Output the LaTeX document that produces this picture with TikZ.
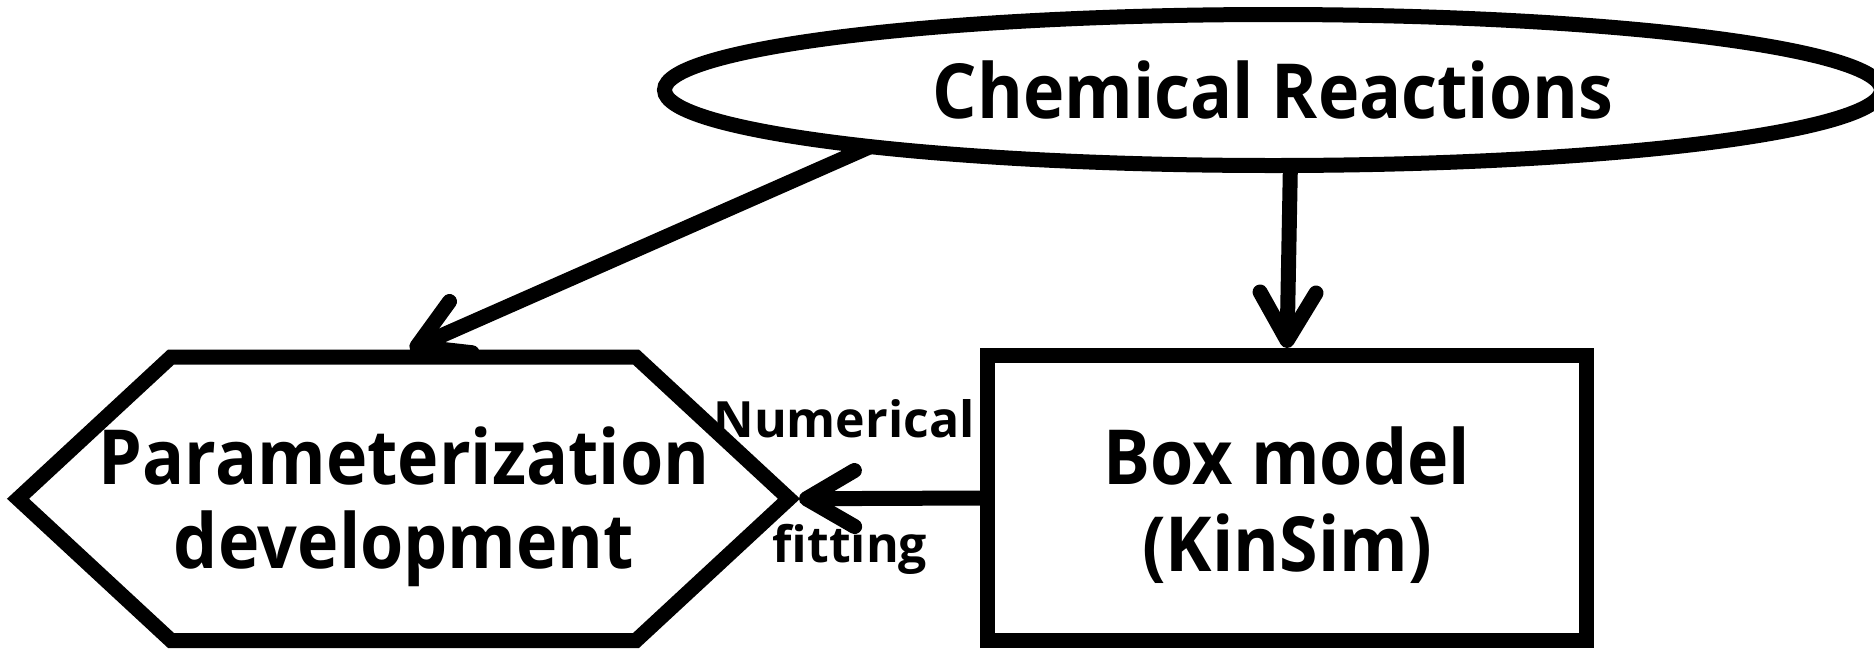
\documentclass[tikz,border=0pt]{standalone}
\usepackage{fontspec}
\setmainfont{Open Sans}
\newfontfamily\narrowsans{Open Sans}[FakeStretch=0.92]
\usetikzlibrary{arrows.meta,shapes.geometric}

\begin{document}
\begin{tikzpicture}[x=1pt,y=-1pt,
  outline/.style={draw=black,line width=15pt},
  arr/.style={draw=black,line width=15pt,line cap=butt,
    -{Straight Barb[length=48pt,width=56pt,round]}},
  big/.style={font=\narrowsans\bfseries\fontsize{76}{90}\selectfont,inner sep=0pt},
  small/.style={font=\bfseries\fontsize{50}{60}\selectfont,inner sep=0pt}]
\useasboundingbox (0,0) rectangle (1874,649);

% source of the workflow
\node[outline,ellipse,minimum width=1217pt,minimum height=151pt,
      inner sep=0pt,outer sep=0pt,big] (chem) at (1273,90) {Chemical Reactions};

% simulation box
\node[outline,rectangle,minimum width=599pt,minimum height=285pt,
      inner sep=0pt] (box) at (1287,498) {};
\node[big,anchor=base] (boxA) at (1287,484) {Box model};
\node[big,anchor=base] (boxB) at (1287,571) {(KinSim)};

% hexagon for the parameterization step
\coordinate (hexL)  at (18,498.75);
\coordinate (hexTL) at (171,357);
\coordinate (hexTR) at (636,357);
\coordinate (hexR)  at (789,498.75);
\coordinate (hexBR) at (636,640.5);
\coordinate (hexBL) at (171,640.5);
\draw[outline,line join=miter]
  (hexL) -- (hexTL) -- (hexTR) -- (hexR) -- (hexBR) -- (hexBL) -- cycle;
\node[big,anchor=base] (parA) at (404,484) {Parameterization};
\node[big,anchor=base] (parB) at (404,568) {development};

% arrow end points on the hexagon border
\coordinate (hexTopIn)   at (410,349.5);
\coordinate (hexRightIn) at (799,498.75);

% connectors
\draw[arr] (chem.-172.7) -- (hexTopIn);
\draw[arr] (chem.-77.8) -- (box.north);
\draw[arr] (box.west) -- (hexRightIn);

% labels of the fitting connector
\node[small,anchor=base] (num) at (844,437) {Numerical};
\node[small,anchor=base] (fit) at (850,562) {fitting};
\end{tikzpicture}
\end{document}
